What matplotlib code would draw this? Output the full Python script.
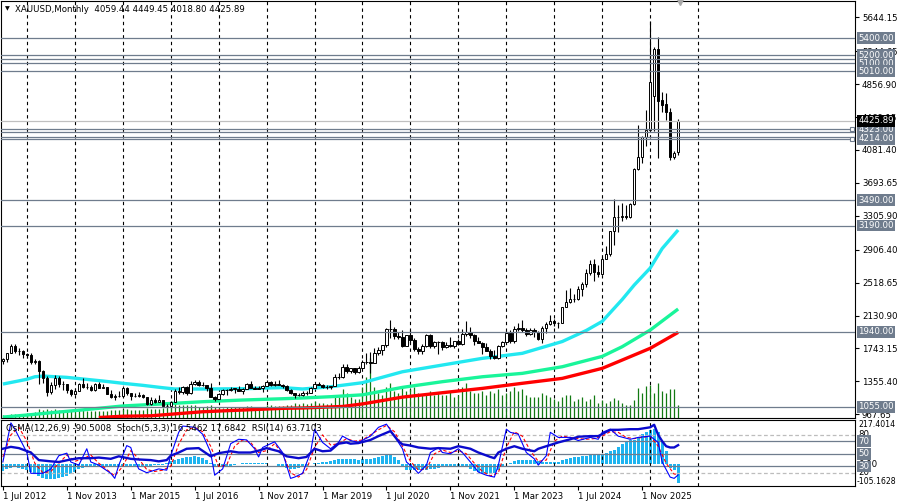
import matplotlib
matplotlib.use("Agg")
import matplotlib.pyplot as plt
import numpy as np
import pandas as pd

FS = 6.2
plt.rcParams.update({"font.family": "DejaVu Sans", "font.size": FS})

SYMBOL = "XAUUSD,Monthly"
START, END = "2012-07", "2026-08"

# monthly candles, Jul 2012 .. Aug 2026
OPEN = [1598, 1614, 1690, 1773, 1719, 1712,
        1675, 1663, 1578, 1596, 1472, 1393, 1234, 1313, 1395, 1327, 1323, 1250,
        1202, 1244, 1326, 1284, 1291, 1250, 1327, 1282, 1287, 1209, 1172, 1182,
        1184, 1278, 1213, 1183, 1183, 1190, 1172, 1095, 1134, 1115, 1142, 1064,
        1061, 1118, 1238, 1233, 1293, 1215, 1322, 1350, 1309, 1316, 1273, 1173,
        1152, 1211, 1249, 1249, 1268, 1269, 1242, 1269, 1322, 1280, 1271, 1275,
        1302, 1345, 1318, 1325, 1315, 1298, 1253, 1223, 1201, 1192, 1214, 1222,
        1282, 1321, 1313, 1292, 1284, 1305, 1409, 1413, 1520, 1472, 1513, 1464,
        1517, 1589, 1585, 1577, 1686, 1730, 1781, 1975, 1967, 1886, 1879, 1777,
        1898, 1847, 1734, 1708, 1769, 1907, 1770, 1814, 1814, 1757, 1783, 1774,
        1829, 1796, 1909, 1937, 1897, 1837, 1807, 1766, 1711, 1660, 1633, 1768,
        1824, 1928, 1827, 1969, 1990, 1962, 1919, 1965, 1940, 1849, 1983, 2036,
        2063, 2039, 2044, 2230, 2286, 2327, 2326, 2447, 2503, 2634, 2744, 2643,
        2624, 2798, 2857, 3123, 3288, 3289, 3303, 3290, 3448, 3858, 4003, 4239,
        4318, 4720, 5270, 4670, 4620, 4530, 4002, 4059.44]
HIGH = [1632, 1692, 1796, 1795, 1754, 1723,
        1694, 1685, 1617, 1605, 1487, 1424, 1348, 1434, 1424, 1361, 1325, 1267,
        1280, 1332, 1392, 1331, 1315, 1332, 1345, 1322, 1290, 1255, 1208, 1239,
        1307, 1285, 1224, 1224, 1232, 1205, 1172, 1170, 1157, 1191, 1142, 1088,
        1126, 1263, 1287, 1306, 1303, 1362, 1375, 1367, 1352, 1316, 1337, 1180,
        1220, 1264, 1262, 1295, 1270, 1297, 1272, 1331, 1357, 1306, 1299, 1309,
        1366, 1361, 1356, 1366, 1326, 1309, 1265, 1224, 1214, 1243, 1237, 1284,
        1326, 1346, 1324, 1310, 1306, 1439, 1453, 1555, 1557, 1519, 1516, 1535,
        1611, 1689, 1704, 1747, 1765, 1789, 1984, 2075, 1992, 1933, 1966, 1907,
        1959, 1872, 1756, 1798, 1913, 1917, 1834, 1832, 1834, 1814, 1877, 1831,
        1853, 1974, 2070, 1998, 1910, 1879, 1814, 1808, 1735, 1730, 1786, 1833,
        1949, 1959, 2009, 2048, 2079, 1983, 1987, 1987, 1953, 2009, 2052, 2135,
        2088, 2055, 2236, 2431, 2450, 2388, 2483, 2531, 2685, 2790, 2801, 2726,
        2817, 2956, 3128, 3500, 3435, 3452, 3439, 3454, 3872, 4381, 4245, 4550,
        5598, 5300, 5408, 4768, 4752, 4576, 4073, 4449.45]
LOW = [1564, 1588, 1687, 1692, 1672, 1636,
       1626, 1555, 1562, 1321, 1338, 1180, 1208, 1270, 1292, 1251, 1221, 1187,
       1202, 1238, 1277, 1268, 1240, 1240, 1280, 1273, 1207, 1160, 1131, 1170,
       1167, 1191, 1142, 1175, 1170, 1162, 1077, 1080, 1098, 1112, 1052, 1046,
       1061, 1112, 1208, 1207, 1199, 1208, 1310, 1302, 1304, 1241, 1171, 1123,
       1146, 1200, 1195, 1243, 1214, 1237, 1205, 1267, 1275, 1260, 1264, 1236,
       1302, 1307, 1303, 1310, 1282, 1246, 1211, 1160, 1180, 1183, 1196, 1221,
       1276, 1310, 1281, 1266, 1266, 1296, 1381, 1400, 1459, 1459, 1445, 1454,
       1517, 1563, 1451, 1567, 1670, 1671, 1757, 1863, 1849, 1860, 1764, 1776,
       1802, 1717, 1677, 1678, 1766, 1750, 1751, 1682, 1722, 1746, 1759, 1753,
       1780, 1781, 1890, 1872, 1787, 1805, 1681, 1709, 1615, 1617, 1616, 1765,
       1823, 1805, 1804, 1950, 1932, 1893, 1903, 1884, 1846, 1810, 1931, 2017,
       2002, 1985, 2039, 2228, 2277, 2287, 2318, 2364, 2472, 2604, 2537, 2583,
       2615, 2832, 2833, 2957, 3121, 3246, 3268, 3281, 3436, 3851, 3930, 4130,
       4300, 4300, 3986, 4532, 4434, 3963, 3975, 4018.80]
CLOSE = [1614, 1690, 1773, 1719, 1712, 1675,
         1663, 1578, 1596, 1472, 1393, 1234, 1313, 1395, 1327, 1323, 1250, 1202,
         1244, 1326, 1284, 1291, 1250, 1327, 1282, 1287, 1209, 1172, 1182, 1184,
         1278, 1213, 1183, 1183, 1190, 1172, 1095, 1134, 1115, 1142, 1064, 1061,
         1118, 1238, 1233, 1293, 1215, 1322, 1350, 1309, 1316, 1273, 1173, 1152,
         1211, 1249, 1249, 1268, 1269, 1242, 1269, 1322, 1280, 1271, 1275, 1302,
         1345, 1318, 1325, 1315, 1298, 1253, 1223, 1201, 1192, 1214, 1222, 1282,
         1321, 1313, 1292, 1284, 1305, 1409, 1413, 1520, 1472, 1513, 1464, 1517,
         1589, 1585, 1577, 1686, 1730, 1781, 1975, 1967, 1886, 1879, 1777, 1898,
         1847, 1734, 1708, 1769, 1907, 1770, 1814, 1814, 1757, 1783, 1774, 1829,
         1796, 1909, 1937, 1897, 1837, 1807, 1766, 1711, 1660, 1633, 1768, 1824,
         1928, 1827, 1969, 1990, 1962, 1919, 1965, 1940, 1849, 1983, 2036, 2063,
         2039, 2044, 2230, 2286, 2327, 2326, 2447, 2503, 2634, 2744, 2643, 2624,
         2798, 2857, 3123, 3288, 3289, 3303, 3290, 3448, 3858, 4003, 4239, 4318,
         4885, 5270, 4662, 4610, 4532, 4002, 4049, 4425.89]
VOLUME = [3, 3, 4, 4, 4, 4,
          5, 5, 6, 9, 8, 9, 8, 9, 8, 7, 7, 7,
          7, 8, 8, 7, 7, 7, 7, 7, 7, 8, 8, 8,
          9, 9, 8, 8, 8, 8, 10, 9, 9, 9, 10, 10,
          11, 15, 13, 13, 13, 13, 13, 11, 11, 12, 13, 11,
          11, 10, 11, 11, 11, 11, 11, 12, 12, 10, 10, 11,
          13, 13, 12, 12, 12, 13, 13, 15, 14, 15, 14, 15,
          17, 15, 15, 14, 15, 23, 21, 29, 25, 21, 19, 19,
          31, 41, 60, 31, 25, 23, 31, 35, 27, 25, 31, 27,
          29, 31, 25, 23, 25, 27, 23, 25, 23, 23, 27, 21,
          23, 31, 35, 27, 25, 25, 27, 23, 27, 25, 29, 23,
          25, 27, 31, 27, 29, 23, 21, 21, 21, 25, 23, 21,
          19, 17, 21, 23, 23, 17, 19, 21, 17, 19, 23, 15,
          18, 15, 17, 20, 18, 15, 13, 13, 18, 30, 25, 32,
          33, 25, 35, 27, 25, 29, 29, 13]

# moving averages (month, value)
MA_FAST_AT = ["2012-07", "2013-01", "2013-03", "2013-05", "2013-11", "2014-08", "2015-01",
              "2015-06", "2015-11", "2016-02", "2016-09", "2017-07", "2018-05", "2018-10",
              "2019-05", "2020-01", "2020-11", "2021-09", "2022-07", "2023-05", "2024-03",
              "2024-09", "2025-01", "2025-06", "2025-09", "2026-01", "2026-04", "2026-08"]
MA_FAST = [1324, 1380, 1410, 1418, 1403, 1360, 1333, 1309, 1281, 1266, 1266, 1269, 1282, 1266,
           1292, 1340, 1469, 1548, 1627, 1686, 1825, 1955, 2062, 2320, 2490, 2690, 2920, 3139]
MA_MID_AT = ["2012-07", "2013-01", "2013-07", "2014-03", "2015-01", "2015-11", "2016-09",
             "2017-07", "2018-05", "2018-10", "2019-05", "2020-01", "2020-11", "2021-09",
             "2022-07", "2023-05", "2024-03", "2025-01", "2025-06", "2026-01", "2026-08"]
MA_MID = [935, 959, 986, 1020, 1066, 1090, 1116, 1136, 1151, 1160, 1175, 1197, 1285, 1352,
          1410, 1450, 1528, 1650, 1764, 1960, 2208]
MA_SLOW_AT = ["2014-07", "2015-01", "2015-08", "2016-09", "2017-07", "2018-05", "2018-10",
              "2019-08", "2020-01", "2020-11", "2021-09", "2022-07", "2023-05", "2024-03",
              "2025-01", "2025-06", "2026-01", "2026-08"]
MA_SLOW = [930, 945, 950, 998, 1018, 1038, 1042, 1060, 1090, 1170, 1222, 1273, 1333, 1391,
           1509, 1607, 1745, 1933]

# horizontal levels
LEVELS = [5400, 5200, 5100, 5010, 4323, 4214, 3490, 3190, 1940, 1055]
LEVELS_NOLABEL = [5150, 4290, 4240]
SELECTED = [4323, 4214]
PRICE_TICKS = [5644.15, 5244.65, 4856.90, 4469.15, 4081.40, 3693.65, 3305.90,
               2906.40, 2518.65, 2130.90, 1743.15, 1355.40, 967.65]

# oscillators (months since Jul 2012, value)
OSMA = [-30, -20, -15, -12, -15, -20, -25,
        -35, -45, -55, -65, -70, -72, -70, -68, -62, -55, -45, -35,
        -22, -15, -12, -10, -12,
        -8, -10, -12, -10, -8, -6, -5, -8, -10, -12, -10, -8, -6, -5, -4, -3, -2,
        5, 15, 22, 28, 32, 36, 38, 40, 38, 32, 20, 5,
        -5, -10, -10, -8, -6, -2,
        4, 6, 8, 9, 9, 8, 8, 6, 4, 2,
        -5, -12, -18, -22, -22, -18, -12, -5,
        2, 5, 8, 10, 14, 18, 24, 28,
        28, 27, 26, 25, 24, 25, 27, 29, 32, 36, 40, 44, 47,
        38, 20, -5,
        -25, -28, -28, -27, -26, -25, -24, -22, -18, -14,
        -12, -12, -11, -10, -10, -12,
        -20, -30, -38, -44, -48, -46, -40, -25,
        -8, 0, 8,
        18, 22, 24, 24, 22, 20, 15,
        10, 10, 12, 12, 14,
        22, 28, 32, 36, 38, 40, 42, 44, 46, 49,
        52, 58, 64, 73, 85, 100, 116, 118, 120, 135, 148, 158,
        170, 172, 160, 116, 68, -15, -25, -90.5008]
OSMA_MIN, OSMA_MAX = -105.1628, 217.4014

STOCH_AT = [0, 2, 3, 6, 7, 10, 12, 14, 16, 17, 19, 21, 22, 24, 27, 28, 29, 31, 32, 33, 34, 36,
            39, 41, 42, 44, 45, 48, 50, 52, 53, 55, 57, 59, 61, 63, 64, 65, 68, 70, 72, 73, 75,
            77, 78, 80, 82, 84, 85, 87, 89, 92, 94, 96, 98, 100, 101, 103, 104, 106, 107, 109,
            110, 112, 114, 115, 117, 119, 121, 123, 124, 126, 127, 129, 131, 133, 134, 136,
            137, 139, 142, 144, 147, 149, 150, 152, 154, 157, 159, 162, 164, 165, 167, 168, 169]
STOCH = [37, 99, 89, 52, 19, 19, 26, 47, 51, 37, 32, 58, 37, 32, 19, 11, 32, 63, 60, 40, 26, 20,
         26, 24, 47, 84, 94, 92, 81, 52, 16, 26, 66, 73, 72, 58, 45, 60, 69, 52, 11, 13, 19,
         52, 89, 68, 58, 68, 78, 71, 68, 78, 92, 97, 78, 58, 37, 26, 19, 32, 52, 60,
         52, 50, 58, 52, 37, 21, 16, 13, 32, 89, 84, 81, 52, 42, 32, 47,
         84, 76, 76, 71, 76, 73, 84, 89, 78, 73, 76, 78, 68, 37, 13, 11, 16.5462]
SIGNAL_AT = list(range(0, 169, 2)) + [169]
SIGNAL = [45, 80, 92, 70, 35, 20, 22, 35, 48, 38, 42, 48, 35, 25, 15, 30, 55, 42, 25, 22,
          24, 30, 65, 88, 92, 85, 62, 30, 32, 62, 72, 68, 52, 55, 66, 50, 20, 13, 25, 60,
          80, 64, 66, 74, 70, 72, 80, 88, 95, 85, 62, 38, 24, 26, 50, 56, 52, 55, 50, 35,
          22, 15, 20, 60, 85, 78, 55, 38, 40, 70, 78, 76, 74, 73, 74, 78, 85, 84, 76, 74,
          76, 78, 62, 35, 17.8, 17.6842]
RSI_AT = [0, 2, 4, 7, 9, 12, 14, 17, 19, 22, 24, 27, 29, 32, 34, 37, 39, 41, 42, 44, 46, 49,
          52, 54, 57, 59, 62, 64, 66, 69, 71, 74, 76, 78, 80, 82, 84, 86, 87, 89, 92, 94, 97,
          99, 100, 102, 104, 107, 109, 112, 114, 117, 119, 122, 123, 124, 126, 128, 130, 133,
          134, 137, 139, 142, 144, 147, 149, 152, 154, 157, 159, 162, 163, 164, 165, 166,
          167, 168, 169]
RSI = [58, 61, 59, 52, 40, 38, 37, 41, 43, 43, 44, 42, 46, 42, 41, 40, 38, 40, 47, 52, 58, 59,
       46, 51, 54, 52, 52, 55, 59, 54, 46, 43, 45, 58, 54, 55, 66, 68, 66, 67, 72, 78, 86,
       70, 65, 63, 60, 58, 59, 58, 62, 58, 52, 45, 43, 52, 58, 62, 58, 54,
       58, 64, 68, 73, 77, 78, 78, 88, 88, 89, 89, 92, 96, 80, 70, 62,
       60, 60, 63.7103]
OSC_LEVELS_DASHED = [80, 20]
OSC_LEVELS_SOLID = [70, 50, 30]

LINE_C = "#6F7C8D"
GRID_C = "black"

months = pd.period_range(START, END, freq="M")
x = np.arange(len(months))
start = pd.Period(START, freq="M")


def pos(m):
    return (pd.Period(m, freq="M") - start).n


fig = plt.figure(figsize=(8.99, 5.04), dpi=100)
ax = fig.add_axes([0.001, 0.1706, 0.9500, 0.8274])
ax2 = fig.add_axes([0.001, 0.0357, 0.9500, 0.1310], sharex=ax)
x_right = 213.25
ax.set_xlim(-0.5, x_right)
ax.set_ylim(924, 5836)

# yearly dashed grid (each January)
jan = [pos(str(p)) for p in pd.period_range(START, "2027-01", freq="M") if p.month == 1]
for a in (ax, ax2):
    for j in jan:
        a.axvline(j, color=GRID_C, lw=0.8, ls=(0, (3, 3)), zorder=0.5)

# volumes at the bottom of the main window
vol_full = max(VOLUME) * 7.0
ax.vlines(x, 0, np.array(VOLUME) / vol_full, transform=ax.get_xaxis_transform(),
          color="#127A12", lw=0.9, zorder=1)

# moving averages
ax.plot([pos(m) for m in MA_SLOW_AT], MA_SLOW, color="#FF0000", lw=2.4, zorder=2,
        solid_capstyle="butt")
ax.plot([pos(m) for m in MA_MID_AT], MA_MID, color="#19F59A", lw=2.4, zorder=2,
        solid_capstyle="butt")
ax.plot([pos(m) for m in MA_FAST_AT], MA_FAST, color="#22E8F0", lw=2.4, zorder=2,
        solid_capstyle="butt")

# candles
o, h, l, c = map(np.array, (OPEN, HIGH, LOW, CLOSE))
ax.vlines(x, l, h, color="black", lw=0.8, zorder=3)
up = c >= o
body = np.maximum(np.abs(c - o), 4)
ax.bar(x[up], body[up], bottom=np.minimum(o, c)[up], width=0.6, color="white",
       edgecolor="black", linewidth=0.7, zorder=4)
ax.bar(x[~up], body[~up], bottom=np.minimum(o, c)[~up], width=0.6, color="black",
       edgecolor="black", linewidth=0.7, zorder=4)

# price scale
ax.yaxis.tick_right()
ax.set_yticks(PRICE_TICKS)
ax.set_yticklabels([f"{t:.2f}" for t in PRICE_TICKS])
ax.tick_params(axis="y", length=3, width=0.8, pad=2, labelsize=FS)
ax.tick_params(axis="x", bottom=False, labelbottom=False)

ytr = ax.get_yaxis_transform()
for lv in LEVELS + LEVELS_NOLABEL:
    ax.axhline(lv, color=LINE_C, lw=0.9, zorder=5)
for lv in LEVELS:
    ax.text(1.004, lv, f"{lv:.2f}", transform=ytr, ha="left", va="center", color="white",
            fontsize=FS, clip_on=False, zorder=6,
            bbox=dict(boxstyle="square,pad=0.15", fc=LINE_C, ec="none"))
for lv in SELECTED:
    ax.plot(0.996, lv, marker="s", ms=3.5, mfc="white", mec=LINE_C, mew=0.8,
            transform=ytr, clip_on=False, zorder=6)

last = CLOSE[-1]
ax.axhline(last, color="#C0C0C0", lw=0.9, zorder=4.5)
ax.text(1.004, last, f"{last:.2f}", transform=ytr, ha="left", va="center", color="white",
        fontsize=FS, clip_on=False, zorder=7,
        bbox=dict(boxstyle="square,pad=0.15", fc="black", ec="none"))

# header
ax.text(0.005, 0.988, "\u25bc", transform=ax.transAxes, fontsize=4.5, va="top", ha="left")
ax.text(0.017, 0.991, f"{SYMBOL}  {OPEN[-1]:.2f} {HIGH[-1]:.2f} {LOW[-1]:.2f} {CLOSE[-1]:.2f}",
        transform=ax.transAxes, va="top", ha="left", fontsize=FS)
ax.plot(x[-1] + 0.5, 0.997, marker="v", ms=5, color="#A8A8A8",
        transform=ax.get_xaxis_transform(), clip_on=False, zorder=8)

# oscillator window
ax_o = ax2.twinx()
ax_o.set_ylim(OSMA_MIN, OSMA_MAX)
ax_o.bar(x, OSMA, width=0.75, color="#1EB4F0", zorder=1)
ax_o.set_yticks([])
for s in ax_o.spines.values():
    s.set_visible(False)
ax2.set_zorder(ax_o.get_zorder() + 1)
ax2.patch.set_visible(False)

ax2.set_ylim(-1.1, 103.6)
for lv in OSC_LEVELS_DASHED:
    ax2.axhline(lv, color="#BDBDBD", lw=0.9, ls=(0, (3, 2)), zorder=1)
for lv in OSC_LEVELS_SOLID:
    ax2.axhline(lv, color=LINE_C, lw=0.9, zorder=1)
ax2.plot(SIGNAL_AT, SIGNAL, color="#FF0000", lw=0.8, ls=(0, (3, 2)), zorder=2)
ax2.plot(STOCH_AT, STOCH, color="#0000FF", lw=0.8, zorder=3)
ax2.plot(RSI_AT, RSI, color="#0A0ACD", lw=1.7, zorder=4)

ax2.set_yticks([])
FS_SMALL = 5.6
otr = ax_o.get_yaxis_transform()
ax_o.text(1.004, OSMA_MAX, f"{OSMA_MAX:.4f}", transform=otr, ha="left", va="top",
          fontsize=FS_SMALL, clip_on=False)
ax_o.text(1.002, OSMA_MIN, f"{OSMA_MIN:.4f}", transform=otr, ha="left", va="bottom",
          fontsize=FS_SMALL, clip_on=False)
ax_o.text(1.004, 0, "0.00", transform=otr, ha="left", va="center", fontsize=FS,
          clip_on=False)
str_ = ax2.get_yaxis_transform()
for lv in OSC_LEVELS_DASHED:
    ax2.text(1.004, lv, f"{lv}", transform=str_, ha="left", va="center", fontsize=FS,
             clip_on=False)
for lv in OSC_LEVELS_SOLID:
    ax2.text(1.004, lv, f"{lv}", transform=str_, ha="left", va="center", color="white",
             fontsize=FS, clip_on=False, zorder=6,
             bbox=dict(boxstyle="square,pad=0.15", fc=LINE_C, ec="none"))
ax2.text(0.006, 0.87,
         f"OsMA(12,26,9) {OSMA[-1]:.4f}  Stoch(5,3,3) {STOCH[-1]:.4f} {SIGNAL[-1]:.4f}"
         f"  RSI(14) {RSI[-1]:.4f}",
         transform=ax2.transAxes, ha="left", va="center", fontsize=FS, zorder=8)

# date axis
date_idx = x[::16]
ax2.set_xticks(date_idx)
ax2.set_xticklabels([f"1 {months[i].strftime('%b %Y')}" for i in date_idx], ha="left")
ax2.tick_params(axis="x", length=3, width=0.8, pad=1.5, labelsize=FS)

for a in (ax, ax2):
    for s in a.spines.values():
        s.set_linewidth(0.8)
        s.set_color("black")

fig.savefig("out.png", dpi=100, facecolor="white")
